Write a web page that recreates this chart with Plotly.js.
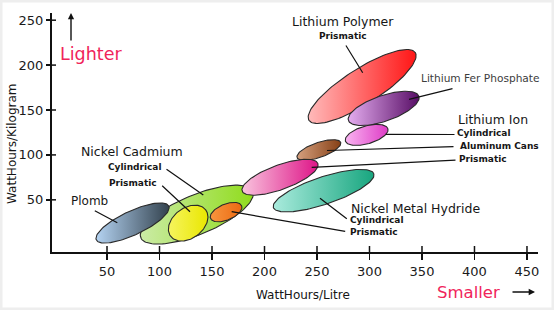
<!DOCTYPE html>
<html>
<head>
<meta charset="utf-8">
<script src="https://cdn.plot.ly/plotly-3.0.1.min.js"></script>
<style>html,body{margin:0;padding:0;background:#fff;}#chart{width:554px;height:310px;}</style>
</head>
<body>
<div id="chart"></div>
<script>
// ---- data ----
const batteryNames = ['Nickel Cadmium cylindrical','Plomb','Nickel Cadmium prismatic','Nickel Metal Hydride prismatic','Lithium Ion aluminum cans','Lithium Ion prismatic','Nickel Metal Hydride cylindrical','Lithium Polymer prismatic','Lithium Fer Phosphate','Lithium Ion cylindrical'];
const centerWhPerLitre = [135.5, 74.3, 127.3, 163.4, 251.8, 214.8, 256.3, 293.0, 313.5, 297.3];
const centerWhPerKg   = [33.5, 24.2, 24.1, 36.3, 105.5, 75.1, 60.2, 176.2, 151.8, 122.3];
const spreadMajor     = [57.7, 38.1, 20.9, 16.0, 22.0, 38.4, 50.5, 60.0, 35.5, 21.1];
const spreadMinor     = [18.8, 11.4, 14.5, 7.6, 7.1, 11.7, 13.0, 16.8, 12.2, 8.5];
const tiltDeg         = [22.5, 25, 37, 22, 19, 20, 18.6, 32.5, 19, 16];
const xTickVals = [50, 100, 150, 200, 250, 300, 350, 400, 450];
const yTickVals = [50, 100, 150, 200, 250];

// ---- styles ----
const fillColors = [
  ['#cbeba6','#90dc1c'], ['#b4d3f2','#33424e'], ['#f6f45e','#e9e700'], ['#f7953e','#ec6a12'],
  ['#d5a07e','#864016'], ['#f9c4de','#de1688'], ['#aaebdd','#18a67f'], ['#ffbaba','#ff1616'],
  ['#e4acef','#580e66'], ['#f9b4f1','#de3cc6']
];
const W = 554, H = 310, M = {l: 52, r: 16, t: 13, b: 58};
const PW = W - M.l - M.r, PH = H - M.t - M.b;
const xRange = [-2.4, 460.5], yRange = [-8.1, 258];
const sx = PW / (xRange[1] - xRange[0]), sy = PH / (yRange[1] - yRange[0]);

const traces = batteryNames.map((name, i) => {
  const th = tiltDeg[i] * Math.PI / 180, xs = [], ys = [];
  for (let k = 0; k <= 120; k++) {
    const t = 2 * Math.PI * k / 120;
    const u = spreadMajor[i] * Math.cos(t), v = spreadMinor[i] * Math.sin(t);
    const rx = u * Math.cos(th) - v * Math.sin(th);
    const ry = u * Math.sin(th) + v * Math.cos(th);
    xs.push(centerWhPerLitre[i] + rx);
    ys.push(centerWhPerKg[i] + ry * sx / sy);
  }
  return {
    type: 'scatter', mode: 'lines', name: name, x: xs, y: ys,
    fill: 'toself',
    fillgradient: {type: 'horizontal', colorscale: [[0, fillColors[i][0]], [1, fillColors[i][1]]]},
    line: {color: '#2a2a2a', width: 1.1}, hoverinfo: 'name'
  };
});

function P(x, y) { return {x: (x - M.l) / PW, y: (H - M.b - y) / PH}; }
const F = 'DejaVu Sans, sans-serif';
const ann = [];
function txt(s, x, y, size, opts) {
  const p = P(x, y);
  ann.push(Object.assign({xref: 'paper', yref: 'paper', x: p.x, y: p.y, text: s, showarrow: false,
    xanchor: 'center', yanchor: 'middle', font: {family: F, size: size, color: '#161616'}}, opts || {}));
}
function lead(tx, ty, hx, hy, opts) {
  const p = P(hx, hy);
  ann.push(Object.assign({xref: 'paper', yref: 'paper', x: p.x, y: p.y, ax: tx - hx, ay: ty - hy, text: '',
    showarrow: true, arrowhead: 0, arrowwidth: 1.2, arrowcolor: '#111', standoff: 0}, opts || {}));
}
const bold = s => '<b>' + s + '</b>';
txt('Lithium Polymer', 342.5, 21.7, 12.5);
txt(bold('Prismatic'), 343.3, 36, 9);
txt('Lithium Fer Phosphate', 480, 77.7, 10.6, {font: {family: F, size: 10.6, color: '#3c3c3c'}});
txt('Lithium Ion', 493.2, 119, 12.5);
txt(bold('Cylindrical'), 484.2, 133.3, 9);
txt(bold('Aluminum Cans'), 499.2, 146, 9);
txt(bold('Prismatic'), 482.9, 159.3, 9);
txt('Nickel Cadmium', 131.7, 151, 12.5);
txt(bold('Cylindrical'), 134.7, 166.7, 9);
txt(bold('Prismatic'), 133, 182.7, 9);
txt('Plomb', 89.5, 200.7, 12);
txt('Nickel Metal Hydride', 415, 208.3, 12.5);
txt(bold('Cylindrical'), 377, 220, 9);
txt(bold('Prismatic'), 374, 232.3, 9);
txt('Lighter', 91, 54, 17.5, {font: {family: F, size: 17.5, color: '#f0245a'}});
txt('Smaller', 468.5, 292, 16.5, {font: {family: F, size: 16.5, color: '#f0245a'}});
txt('WattHours/Litre', 302.5, 295, 12);
txt('WattHours/Kilogram', 11.5, 143.5, 12, {textangle: -90});

lead(345, 44, 362.7, 72.7);
lead(454, 88.3, 409, 99.3);
lead(456, 134.5, 385.7, 134.3);
lead(455, 146.5, 327, 150.5);
lead(457, 160, 311.7, 167.3);
lead(165, 168.3, 203.3, 195);
lead(160.7, 184.3, 190, 211.7);
lead(93.3, 210, 117.3, 222.7);
lead(348.3, 220, 320, 198.3);
lead(346.7, 231.7, 231.7, 211.7);
lead(71, 42, 71, 13, {arrowhead: 2, arrowsize: 0.9, arrowwidth: 1.4});
lead(511, 292, 535, 292, {arrowhead: 2, arrowsize: 0.9, arrowwidth: 1.4});

const shapes = [];
xTickVals.forEach(v => shapes.push({type: 'line', xref: 'x', yref: 'paper', x0: v, x1: v, y0: 0, y1: 6 / PH, line: {color: '#111', width: 1.5}}));
yTickVals.forEach(v => shapes.push({type: 'line', xref: 'paper', yref: 'y', x0: 0, x1: 4 / PW, y0: v, y1: v, line: {color: '#111', width: 1.5}}));
shapes.push({type: 'rect', xref: 'paper', yref: 'paper', x0: -M.l / PW, x1: 1 + M.r / PW, y0: -M.b / PH, y1: 1 + M.t / PH,
  line: {color: '#eeeeee', width: 5}, layer: 'below'});

const layout = {
  width: W, height: H, margin: M,
  paper_bgcolor: '#ffffff', plot_bgcolor: '#ffffff',
  showlegend: false, hovermode: false,
  xaxis: {range: xRange, showline: true, linecolor: '#111', linewidth: 2, ticks: 'outside', ticklen: 6, tickwidth: 1.5,
    tickcolor: '#111', tickmode: 'array', tickvals: xTickVals, showgrid: false, zeroline: false,
    tickfont: {family: F, size: 13, color: '#1a1a1a'}, fixedrange: true},
  yaxis: {range: yRange, showline: true, linecolor: '#111', linewidth: 2, ticks: 'outside', ticklen: 4, tickwidth: 1.5,
    tickcolor: '#111', tickmode: 'array', tickvals: yTickVals, showgrid: false, zeroline: false,
    tickfont: {family: F, size: 13, color: '#1a1a1a'}, fixedrange: true},
  annotations: ann, shapes: shapes
};
Plotly.newPlot('chart', traces, layout, {displayModeBar: false, staticPlot: true});
</script>
</body>
</html>
